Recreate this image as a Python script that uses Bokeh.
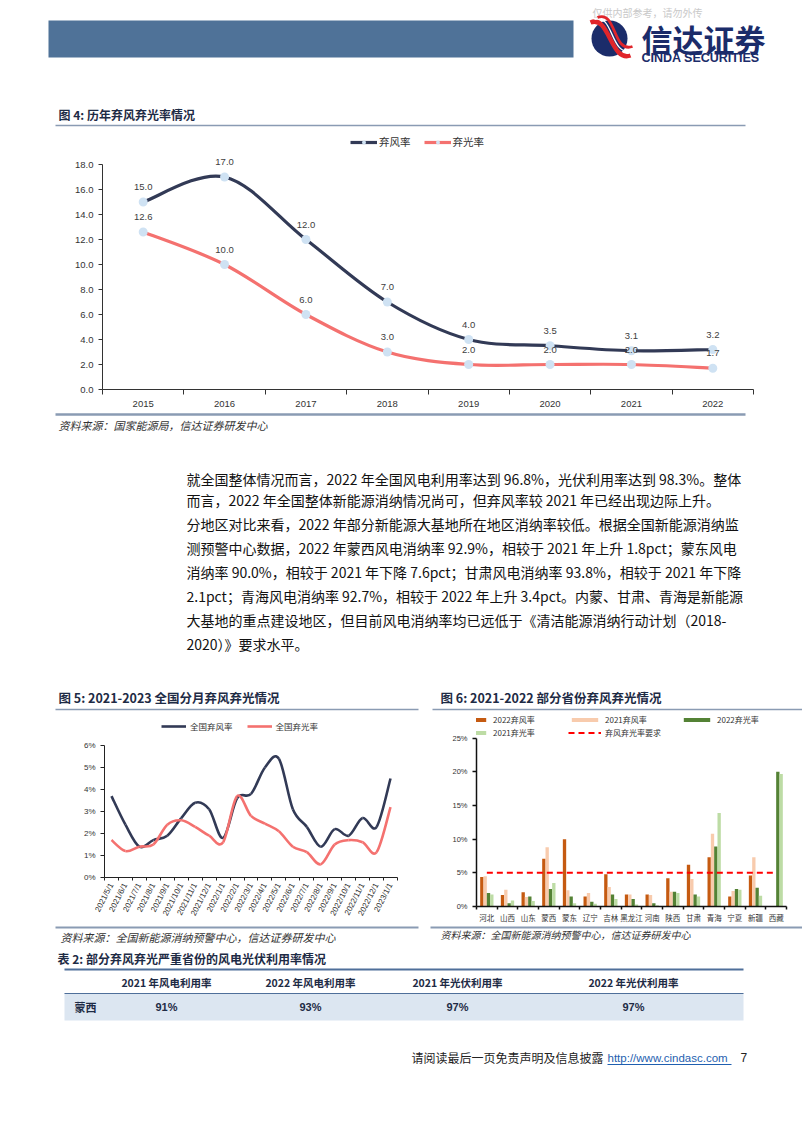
import math
import numpy as np
from bokeh.plotting import figure
from bokeh.models import (Range1d, FixedTicker, CustomJSTickFormatter, PrintfTickFormatter,
                          Legend, LegendItem, ColumnDataSource)
from bokeh.layouts import column, row
from bokeh.embed import file_html
from bokeh.resources import INLINE
from bokeh.core.properties import value

CJK = "Noto Sans CJK SC"
LAT = "Liberation Sans"
NAVY = "#323A56"
PINK = "#F4716F"
RULE = "#8A9BB3"
TITLE = "#1E2B45"

# ---------------- data ----------------
years = ["2015", "2016", "2017", "2018", "2019", "2020", "2021", "2022"]
wind_rate = [15.0, 17.0, 12.0, 7.0, 4.0, 3.5, 3.1, 3.2]
solar_rate = [12.6, 10.0, 6.0, 3.0, 2.0, 2.0, 2.0, 1.7]

months = ["2021/5/1", "2021/6/1", "2021/7/1", "2021/8/1", "2021/9/1", "2021/10/1",
          "2021/11/1", "2021/12/1", "2022/1/1", "2022/2/1", "2022/3/1", "2022/4/1",
          "2022/5/1", "2022/6/1", "2022/7/1", "2022/8/1", "2022/9/1", "2022/10/1",
          "2022/11/1", "2022/12/1", "2023/1/1"]
wind_monthly = [3.7, 2.4, 1.4, 1.7, 1.9, 2.7, 3.4, 3.1, 1.8, 3.6, 3.8, 5.0,
                5.4, 3.1, 2.3, 1.4, 2.2, 1.9, 2.7, 2.3, 4.5]
solar_monthly = [1.7, 1.2, 1.4, 1.5, 2.4, 2.6, 2.3, 1.9, 1.6, 3.7, 2.8, 2.45,
                 2.1, 1.4, 1.15, 0.6, 1.5, 1.7, 1.6, 1.15, 3.2]

provinces = ["河北", "山西", "山东", "蒙西", "蒙东", "辽宁", "吉林", "黑龙江",
             "河南", "陕西", "甘肃", "青海", "宁夏", "新疆", "西藏"]
wind_2022 = [4.4, 1.7, 2.1, 7.1, 10.0, 1.5, 4.8, 1.8, 1.8, 4.2, 6.2, 7.3, 1.5, 4.6, 0.0]
wind_2021 = [4.5, 2.5, 1.4, 8.8, 2.4, 2.0, 2.9, 1.8, 1.7, 2.2, 4.1, 10.8, 2.3, 7.3, 0.0]
solar_2022 = [2.0, 0.5, 1.5, 2.6, 1.5, 0.7, 1.8, 1.1, 0.5, 2.2, 1.8, 8.9, 2.6, 2.8, 20.0]
solar_2021 = [1.8, 0.9, 0.8, 3.5, 0.5, 0.4, 1.1, 0.3, 0.2, 2.0, 1.5, 13.9, 2.5, 1.6, 19.7]
requirement = [5.0] * 15

table_headers = ["2021 年风电利用率", "2022 年风电利用率", "2021 年光伏利用率", "2022 年光伏利用率"]
table_region = "蒙西"
table_values = [91, 93, 97, 97]

paragraph_lines = [
    "就全国整体情况而言，2022 年全国风电利用率达到 96.8%，光伏利用率达到 98.3%。整体",
    "而言，2022 年全国整体新能源消纳情况尚可，但弃风率较 2021 年已经出现边际上升。",
    "分地区对比来看，2022 年部分新能源大基地所在地区消纳率较低。根据全国新能源消纳监",
    "测预警中心数据，2022 年蒙西风电消纳率 92.9%，相较于 2021 年上升 1.8pct；蒙东风电",
    "消纳率 90.0%，相较于 2021 年下降 7.6pct；甘肃风电消纳率 93.8%，相较于 2021 年下降",
    "2.1pct；青海风电消纳率 92.7%，相较于 2022 年上升 3.4pct。内蒙、甘肃、青海是新能源",
    "大基地的重点建设地区，但目前风电消纳率均已远低于《清洁能源消纳行动计划（2018-",
    "2020）》要求水平。",
]
paragraph_y = [478, 499, 523, 547, 571, 595, 619, 643]


# ---------------- helpers ----------------
def decor(x0, x1, y0, y1):
    p = figure(width=x1 - x0, height=y1 - y0, x_range=Range1d(x0, x1), y_range=Range1d(y1, y0),
               output_backend="svg", toolbar_location=None, title=None, min_border=0,
               x_axis_type=None, y_axis_type=None, frame_align=False)
    p.outline_line_color = None
    p.background_fill_color = "white"
    p.border_fill_color = "white"
    return p


def txt(p, x, y, s, size, color="#222", font=CJK, style="normal", align="left", baseline="middle"):
    p.text(x=[x], y=[y], text=[s], text_font=value(font), text_font_size=size,
           text_font_style=style, text_color=color, text_align=align, text_baseline=baseline)


def smooth(xs, ys):
    n = len(xs)
    d = {k: [] for k in ("x0", "y0", "x1", "y1", "cx0", "cy0", "cx1", "cy1")}
    for i in range(n - 1):
        a = max(i - 1, 0)
        b = min(i + 2, n - 1)
        d["x0"].append(xs[i]); d["y0"].append(ys[i])
        d["x1"].append(xs[i + 1]); d["y1"].append(ys[i + 1])
        d["cx0"].append(xs[i] + (xs[i + 1] - xs[a]) / 6.0)
        d["cy0"].append(ys[i] + (ys[i + 1] - ys[a]) / 6.0)
        d["cx1"].append(xs[i + 1] - (xs[b] - xs[i]) / 6.0)
        d["cy1"].append(ys[i + 1] - (ys[b] - ys[i]) / 6.0)
    return ColumnDataSource(d)


def base_chart(w, h, n, ymax, left, right, bottom):
    p = figure(width=w, height=h, x_range=Range1d(0, n), y_range=Range1d(0, ymax),
               output_backend="svg", toolbar_location=None, title=None,
               min_border_left=left, min_border_right=right, min_border_top=0,
               min_border_bottom=bottom, frame_align=False)
    p.outline_line_color = None
    p.xgrid.visible = False
    p.ygrid.visible = False
    p.background_fill_color = "white"
    p.border_fill_color = "white"
    return p


def cat_xaxis(p, labels, font, size, color="#333", line_color="#333", width=1, tick=5):
    n = len(labels)
    ax = p.xaxis[0]
    ax.ticker = FixedTicker(ticks=[i + 0.5 for i in range(n)], minor_ticks=list(range(n + 1)))
    ax.formatter = CustomJSTickFormatter(args=dict(labels=labels),
                                         code="return labels[Math.floor(tick)];")
    ax.major_tick_line_color = None
    ax.major_tick_out = 0
    ax.major_tick_in = 0
    ax.minor_tick_out = tick
    ax.minor_tick_in = 0
    ax.minor_tick_line_color = line_color
    ax.minor_tick_line_width = width
    ax.axis_line_color = line_color
    ax.axis_line_width = width
    ax.major_label_text_font = font
    ax.major_label_text_font_size = size
    ax.major_label_text_color = color
    return ax


def val_yaxis(p, ticks, fmt, font, size, color="#333", line_color="#333", width=1):
    ax = p.yaxis[0]
    ax.ticker = FixedTicker(ticks=ticks)
    ax.formatter = PrintfTickFormatter(format=fmt)
    ax.bounds = (ticks[0], ticks[-1])
    ax.major_tick_out = 4
    ax.major_tick_in = 0
    ax.minor_tick_out = 0
    ax.minor_tick_in = 0
    ax.major_tick_line_color = line_color
    ax.major_tick_line_width = width
    ax.axis_line_color = line_color
    ax.axis_line_width = width
    ax.major_label_text_font = font
    ax.major_label_text_font_size = size
    ax.major_label_text_color = color
    ax.major_label_standoff = 5
    return ax


# ---------------- header ----------------
hdr = decor(0, 802, 0, 95)
hdr.quad(left=[48], right=[573], top=[20], bottom=[57], fill_color="#4F7298", line_color=None)
txt(hdr, 592, 12, "仅供内部参考，请勿外传", "10px", color="#C9C9C9")
hdr.ellipse(x=[609], y=[38], width=[36], height=[36], fill_color="#1B2C6A", line_color=None)
hdr.bezier(x0=[590], y0=[22], x1=[630], y1=[55], cx0=[609], cy0=[14], cx1=[610], cy1=[62],
           line_color="#E0252B", line_width=4.5)
hdr.bezier(x0=[594], y0=[19], x1=[631], y1=[50], cx0=[613], cy0=[12], cx1=[610], cy1=[57],
           line_color="white", line_width=1.3)
hdr.bezier(x0=[597], y0=[17], x1=[632], y1=[46], cx0=[616], cy0=[9], cx1=[612], cy1=[53],
           line_color="#E0252B", line_width=2.8)
txt(hdr, 641, 38, "信达证券", "31px", color="#1B2C6A", style="bold")
txt(hdr, 641, 57, "CINDA SECURITIES", "12.5px", color="#1B2C6A", font=LAT, style="bold")

# ---------------- figure 4 title ----------------
t4 = decor(0, 802, 95, 130)
txt(t4, 58, 114, "图 4:  历年弃风弃光率情况", "12px", color=TITLE, style="bold")
t4.segment(x0=[55], y0=[125], x1=[745], y1=[125], line_color=RULE, line_width=1.5)

# ---------------- figure 4 chart ----------------
x4 = [i + 0.5 for i in range(len(years))]
p4 = base_chart(802, 282, len(years), 20.72, 102, 49, 23)
wind_line = p4.bezier(x0="x0", y0="y0", x1="x1", y1="y1", cx0="cx0", cy0="cy0", cx1="cx1",
                      cy1="cy1", source=smooth(x4, wind_rate), line_color=NAVY, line_width=3.2)
solar_line = p4.bezier(x0="x0", y0="y0", x1="x1", y1="y1", cx0="cx0", cy0="cy0", cx1="cx1",
                       cy1="cy1", source=smooth(x4, solar_rate), line_color=PINK, line_width=3.2)
wind_pts = p4.scatter(x=x4, y=wind_rate, size=9, fill_color="#CFE2F3", line_color=None)
solar_pts = p4.scatter(x=x4, y=solar_rate, size=9, fill_color="#CFE2F3", line_color=None)
for series in (wind_rate, solar_rate):
    p4.text(x=x4, y=series, text=[f"{v:.1f}" for v in series], y_offset=-15,
            text_font=value(LAT), text_font_size="9.5px", text_color="#404040",
            text_align="center", text_baseline="middle")
cat_xaxis(p4, years, LAT, "9.5px")
p4.xaxis[0].major_label_standoff = 6
val_yaxis(p4, list(range(0, 19, 2)), "%.1f", LAT, "9.5px")
leg4 = Legend(items=[LegendItem(label="弃风率", renderers=[wind_line, wind_pts]),
                     LegendItem(label="弃光率", renderers=[solar_line, solar_pts])],
              location=(248, 240), orientation="horizontal", glyph_width=27, glyph_height=10,
              label_height=12, label_standoff=2, spacing=13, padding=0, margin=0,
              background_fill_alpha=0, border_line_color=None,
              label_text_font=CJK, label_text_font_size="10.5px", label_text_color="#333")
p4.add_layout(leg4)

# ---------------- middle: source, paragraph, titles ----------------
mid = decor(0, 802, 412, 712)
mid.segment(x0=[55], y0=[414], x1=[745], y1=[414], line_color=RULE, line_width=2.5)
txt(mid, 58, 424, "资料来源：国家能源局，信达证券研发中心", "11px", color="#333", style="italic")
mid.text(x=[186] * len(paragraph_lines), y=paragraph_y, text=paragraph_lines,
         text_font=value(CJK), text_font_size="14px", text_color="#111",
         text_align="left", text_baseline="middle")
txt(mid, 58, 697, "图 5:  2021-2023 全国分月弃风弃光情况", "12.5px", color=TITLE, style="bold")
mid.segment(x0=[55], y0=[709], x1=[418], y1=[709], line_color=RULE, line_width=1.5)
txt(mid, 440, 697, "图 6:  2021-2022 部分省份弃风弃光情况", "12.5px", color=TITLE, style="bold")
mid.segment(x0=[432], y0=[709], x1=[802], y1=[709], line_color=RULE, line_width=1.5)

# ---------------- figure 5 chart ----------------
x5 = [i + 0.5 for i in range(len(months))]
p5 = base_chart(430, 213, len(months), 7.5, 104, 33, 48)
w5 = p5.bezier(x0="x0", y0="y0", x1="x1", y1="y1", cx0="cx0", cy0="cy0", cx1="cx1",
               cy1="cy1", source=smooth(x5, wind_monthly), line_color=NAVY, line_width=2.6)
s5 = p5.bezier(x0="x0", y0="y0", x1="x1", y1="y1", cx0="cx0", cy0="cy0", cx1="cx1",
               cy1="cy1", source=smooth(x5, solar_monthly), line_color=PINK, line_width=2.6)
ax5 = cat_xaxis(p5, months, LAT, "8px", line_color="#222", tick=3)
ax5.major_label_orientation = math.radians(63)
ax5.major_label_standoff = 3
val_yaxis(p5, list(range(0, 7)), "%d%%", LAT, "8px", line_color="#222")
leg5 = Legend(items=[LegendItem(label="全国弃风率", renderers=[w5]),
                     LegendItem(label="全国弃光率", renderers=[s5])],
              location=(57, 145), orientation="horizontal", glyph_width=25, glyph_height=8,
              label_height=10, label_standoff=4, spacing=14, padding=0, margin=0,
              background_fill_alpha=0, border_line_color=None,
              label_text_font=CJK, label_text_font_size="8.5px", label_text_color="#333")
p5.add_layout(leg5)

# ---------------- figure 6 chart ----------------
centers = np.arange(len(provinces)) + 0.5
bw = 0.161
p6 = base_chart(372, 213, len(provinces), 28.82, 46, 16, 17)
series6 = [("2022弃风率", wind_2022, "#C55A11"), ("2021弃风率", wind_2021, "#F8CBAD"),
           ("2022弃光率", solar_2022, "#548235"), ("2021弃光率", solar_2021, "#BDDCA5")]
items6 = []
for k, (name, vals, col) in enumerate(series6):
    r = p6.vbar(x=centers + (k - 1.5) * bw, top=vals, width=bw, fill_color=col, line_color=None)
    items6.append(LegendItem(label=name, renderers=[r]))
req = p6.line(x=centers, y=requirement, line_color="#FF0000", line_width=2, line_dash="6 4")
items6.append(LegendItem(label="弃风弃光率要求", renderers=[req]))
cat_xaxis(p6, provinces, CJK, "7.5px", line_color="#111", width=1.5, tick=3)
p6.xaxis[0].major_label_standoff = 2
val_yaxis(p6, list(range(0, 26, 5)), "%d%%", LAT, "7.5px", line_color="#111", width=1.5)
leg6 = Legend(items=items6, location=(-20, 168), orientation="horizontal", ncols=3,
              glyph_width=33, glyph_height=5, label_height=10, label_width=73,
              label_standoff=4, spacing=2, padding=0, margin=0,
              background_fill_alpha=0, border_line_color=None,
              label_text_font=CJK, label_text_font_size="8px", label_text_color="#333")
p6.add_layout(leg6)

# ---------------- bottom: sources, table, footer ----------------
bot = decor(0, 802, 925, 1133)
bot.segment(x0=[55, 430], y0=[927, 927], x1=[418, 802], y1=[927, 927], line_color=RULE, line_width=2)
txt(bot, 60, 936, "资料来源：全国新能源消纳预警中心，信达证券研发中心", "11px", color="#333", style="italic")
txt(bot, 440, 934, "资料来源：全国新能源消纳预警中心，信达证券研发中心", "10px", color="#333", style="italic")

txt(bot, 57, 958, "表 2:  部分弃风弃光严重省份的风电光伏利用率情况", "12px", color=TITLE, style="bold")
bot.quad(left=[64], right=[743], top=[993], bottom=[1020], fill_color="#DCE6F1", line_color=None)
bot.segment(x0=[64, 64], y0=[969, 993], x1=[743, 743], y1=[969, 993],
            line_color="#4F6F9A", line_width=[2, 1.2])
col_x = [166, 310, 457, 633]
bot.text(x=col_x, y=[982] * 4, text=table_headers, text_font=value(CJK), text_font_size="10.5px",
         text_font_style="bold", text_color="#1E2B45", text_align="center", text_baseline="middle")
txt(bot, 74, 1006, table_region, "11px", color="#1E2B45", style="bold")
bot.text(x=col_x, y=[1006] * 4, text=[f"{v}%" for v in table_values], text_font=value(LAT),
         text_font_size="11px", text_font_style="bold", text_color="#1E2B45",
         text_align="center", text_baseline="middle")

txt(bot, 411, 1057, "请阅读最后一页免责声明及信息披露", "12px", color="#222")
txt(bot, 607, 1057, "http://www.cindasc.com", "11.5px", color="#1F5FB0", font=LAT)
bot.segment(x0=[607], y0=[1064], x1=[731], y1=[1064], line_color="#1F5FB0", line_width=1)
txt(bot, 740, 1057, "7", "12px", color="#222", font=LAT)

layout = column(hdr, t4, p4, mid, row(p5, p6), bot)
open("out.html", "w").write(file_html(layout, INLINE))
